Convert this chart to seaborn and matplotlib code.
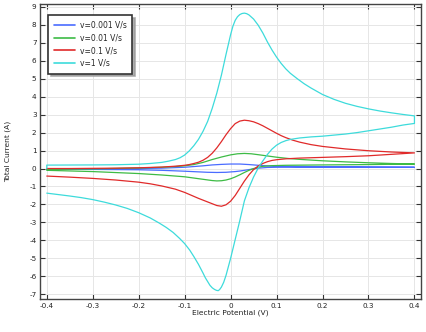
import matplotlib
matplotlib.use("Agg")
import matplotlib.pyplot as plt
import seaborn as sns
import pandas as pd

# Cyclic voltammograms at four scan rates: forward sweep (-0.4 -> 0.4 V)
# followed by the reverse sweep (0.4 -> -0.4 V).

# v = 1 V/s
cyan_fwd_E = [-0.4, -0.4, -0.3, -0.25, -0.2, -0.175, -0.15, -0.135, -0.12, -0.11, -0.1, -0.09,
              -0.08, -0.07, -0.06, -0.05, -0.04, -0.03, -0.02, -0.01, 0.0, 0.005, 0.01, 0.015,
              0.02, 0.025, 0.03, 0.035, 0.04, 0.05, 0.06, 0.07, 0.08, 0.09, 0.1, 0.11, 0.12,
              0.13, 0.145, 0.16, 0.175, 0.2, 0.225, 0.25, 0.275, 0.3, 0.325, 0.35, 0.375, 0.4]
cyan_fwd_I = [0.0, 0.19, 0.2, 0.21, 0.24, 0.28, 0.34, 0.41, 0.5, 0.6, 0.75, 0.98,
              1.27, 1.62, 2.07, 2.62, 3.35, 4.2, 5.2, 6.35, 7.45, 7.92, 8.25, 8.45,
              8.57, 8.63, 8.65, 8.62, 8.55, 8.32, 7.98, 7.55, 7.05, 6.6, 6.2, 5.85, 5.55,
              5.3, 5.0, 4.72, 4.48, 4.12, 3.85, 3.63, 3.46, 3.32, 3.2, 3.1, 3.01, 2.93]
cyan_rev_E = [0.4, 0.375, 0.35, 0.325, 0.3, 0.275, 0.25, 0.225, 0.2, 0.175, 0.15, 0.13, 0.12,
              0.11, 0.1, 0.09, 0.08, 0.07, 0.06, 0.05, 0.04, 0.03, 0.02, 0.01, 0.0, -0.01,
              -0.015, -0.02, -0.024, -0.027, -0.031, -0.035, -0.04, -0.045, -0.055, -0.06,
              -0.07, -0.08, -0.089, -0.1, -0.111, -0.125, -0.14, -0.155, -0.175, -0.2, -0.225,
              -0.25, -0.275, -0.3, -0.325, -0.35, -0.375, -0.4]
cyan_rev_I = [2.51, 2.42, 2.3, 2.2, 2.1, 2.0, 1.92, 1.86, 1.8, 1.76, 1.7, 1.62, 1.55,
              1.45, 1.3, 1.08, 0.78, 0.42, 0.02, -0.47, -1.07, -1.8, -2.9, -3.95, -5.0, -5.95,
              -6.33, -6.6, -6.74, -6.8, -6.78, -6.73, -6.64, -6.5, -6.08, -5.82,
              -5.33, -4.9, -4.54, -4.18, -3.89, -3.56, -3.28, -3.04, -2.75, -2.46, -2.22,
              -2.03, -1.87, -1.73, -1.62, -1.53, -1.45, -1.37]

# v = 0.1 V/s
red_fwd_E = [-0.4, -0.35, -0.3, -0.25, -0.2, -0.15, -0.12, -0.1, -0.09, -0.08, -0.07, -0.06,
             -0.05, -0.04, -0.03, -0.02, -0.01, 0.0, 0.01, 0.02, 0.03, 0.04, 0.05, 0.06, 0.07,
             0.08, 0.09, 0.1, 0.11, 0.12, 0.135, 0.15, 0.175, 0.2, 0.25, 0.3, 0.35, 0.4]
red_fwd_I = [0.0, 0.0, 0.01, 0.02, 0.04, 0.08, 0.13, 0.18, 0.22, 0.28, 0.35, 0.46,
             0.62, 0.85, 1.15, 1.5, 1.88, 2.22, 2.5, 2.64, 2.69, 2.66, 2.6, 2.5, 2.38,
             2.24, 2.1, 1.96, 1.83, 1.72, 1.58, 1.47, 1.33, 1.23, 1.09, 0.99, 0.92, 0.87]
red_rev_E = [0.4, 0.35, 0.3, 0.25, 0.2, 0.15, 0.12, 0.1, 0.09, 0.08, 0.07, 0.06, 0.05, 0.04,
             0.03, 0.02, 0.01, 0.0, -0.01, -0.02, -0.03, -0.04, -0.05, -0.06, -0.07, -0.08,
             -0.1, -0.12, -0.15, -0.175, -0.2, -0.25, -0.3, -0.35, -0.4]
red_rev_I = [0.87, 0.79, 0.71, 0.66, 0.62, 0.58, 0.54, 0.49, 0.45, 0.38, 0.28, 0.14, -0.06,
             -0.35, -0.7, -1.1, -1.5, -1.82, -2.02, -2.1, -2.06, -1.96, -1.86, -1.76, -1.66,
             -1.55, -1.33, -1.15, -0.97, -0.85, -0.76, -0.64, -0.55, -0.48, -0.42]

# v = 0.01 V/s
green_fwd_E = [-0.4, -0.3, -0.2, -0.15, -0.12, -0.1, -0.08, -0.06, -0.04, -0.02, 0.0, 0.015,
               0.03, 0.045, 0.06, 0.08, 0.1, 0.125, 0.15, 0.2, 0.25, 0.3, 0.35, 0.4]
green_fwd_I = [-0.05, -0.02, 0.03, 0.07, 0.11, 0.15, 0.22, 0.34, 0.5, 0.64, 0.76, 0.82,
               0.84, 0.82, 0.77, 0.7, 0.63, 0.56, 0.51, 0.43, 0.37, 0.32, 0.28, 0.25]
green_rev_E = [0.4, 0.3, 0.2, 0.12, 0.09, 0.07, 0.06, 0.05, 0.04, 0.03, 0.02, 0.01, 0.0,
               -0.01, -0.02, -0.03, -0.04, -0.06, -0.08, -0.1, -0.125, -0.15, -0.2, -0.3, -0.4]
green_rev_I = [0.25, 0.22, 0.2, 0.18, 0.16, 0.12, 0.07, 0.0, -0.1, -0.22, -0.35, -0.47, -0.57,
               -0.64, -0.68, -0.69, -0.67, -0.6, -0.53, -0.46, -0.41, -0.36, -0.28, -0.17, -0.1]

# v = 0.001 V/s
blue_fwd_E = [-0.4, -0.3, -0.2, -0.15, -0.1, -0.08, -0.06, -0.04, -0.02, 0.0, 0.02, 0.04,
              0.06, 0.08, 0.1, 0.15, 0.2, 0.3, 0.4]
blue_fwd_I = [-0.02, -0.01, 0.0, 0.02, 0.07, 0.11, 0.15, 0.2, 0.23, 0.25, 0.25, 0.22,
              0.18, 0.15, 0.13, 0.11, 0.1, 0.08, 0.07]
blue_rev_E = [0.4, 0.3, 0.2, 0.1, 0.08, 0.07, 0.06, 0.05, 0.04, 0.03, 0.02, 0.01, 0.0,
              -0.01, -0.03, -0.05, -0.075, -0.1, -0.15, -0.2, -0.3, -0.4]
blue_rev_I = [0.07, 0.07, 0.07, 0.07, 0.06, 0.04, 0.02, -0.02, -0.06, -0.1, -0.14, -0.17,
              -0.19, -0.21, -0.22, -0.21, -0.18, -0.15, -0.1, -0.07, -0.05, -0.04]

labels = ["v=0.001 V/s", "v=0.01 V/s", "v=0.1 V/s", "v=1 V/s"]
colors = ["#4a6cff", "#3dbb45", "#e02a2a", "#3ddbdb"]

series = [
    (blue_fwd_E + blue_rev_E, blue_fwd_I + blue_rev_I),
    (green_fwd_E + green_rev_E, green_fwd_I + green_rev_I),
    (red_fwd_E + red_rev_E, red_fwd_I + red_rev_I),
    (cyan_fwd_E + cyan_rev_E, cyan_fwd_I + cyan_rev_I),
]

frames = []
for lab, (E, I) in zip(labels, series):
    frames.append(pd.DataFrame({"E": E, "I": I, "rate": lab}))
df = pd.concat(frames, ignore_index=True)

sns.set_theme(style="whitegrid")
plt.rcParams["font.family"] = ["DejaVu Sans"]

fig = plt.figure(figsize=(4.26, 3.32), dpi=100)
ax = fig.add_axes([0.094, 0.0985, 0.894, 0.889])

sns.lineplot(data=df, x="E", y="I", hue="rate", hue_order=labels, palette=colors,
             sort=False, estimator=None, units="rate", linewidth=0.9, ax=ax,
             legend=True)
for ln in ax.get_lines():
    ln.set_solid_joinstyle("round")

ax.set_xlim(-0.4146, 0.414)
ax.set_ylim(-7.28, 9.15)
ax.set_xticks([-0.4, -0.3, -0.2, -0.1, 0, 0.1, 0.2, 0.3, 0.4])
ax.set_xticklabels(["-0.4", "-0.3", "-0.2", "-0.1", "0", "0.1", "0.2", "0.3", "0.4"])
ax.set_yticks(range(-7, 10))
ax.set_yticklabels([str(v) for v in range(-7, 10)])
ax.tick_params(axis="both", which="major", direction="in", length=3.5, width=0.8,
               labelsize=5.2, color="#333333", labelcolor="#222222", pad=2.5,
               top=True, right=True, bottom=True, left=True)
ax.grid(True, color="#e6e6e6", linewidth=0.7)
for s in ax.spines.values():
    s.set_color("#444444")
    s.set_linewidth(1.0)
ax.set_facecolor("white")

ax.set_xlabel("Electric Potential (V)", fontsize=5.4, labelpad=0.5, color="#222222")
ax.set_ylabel("Total Current (A)", fontsize=5.4, labelpad=13, color="#222222")

leg = ax.legend(loc="upper left", bbox_to_anchor=(0.022, 0.964), borderaxespad=0,
                fontsize=5.5, frameon=True, fancybox=False, shadow={"color": "#9a9a9a", "alpha": 0.8},
                framealpha=1, edgecolor="#333333", handlelength=2.75, borderpad=0.75,
                labelspacing=0.5, handletextpad=0.6)
leg.get_frame().set_linewidth(1.2)
for line in leg.get_lines():
    line.set_linewidth(1.2)

fig.savefig("out.png", dpi=100)
